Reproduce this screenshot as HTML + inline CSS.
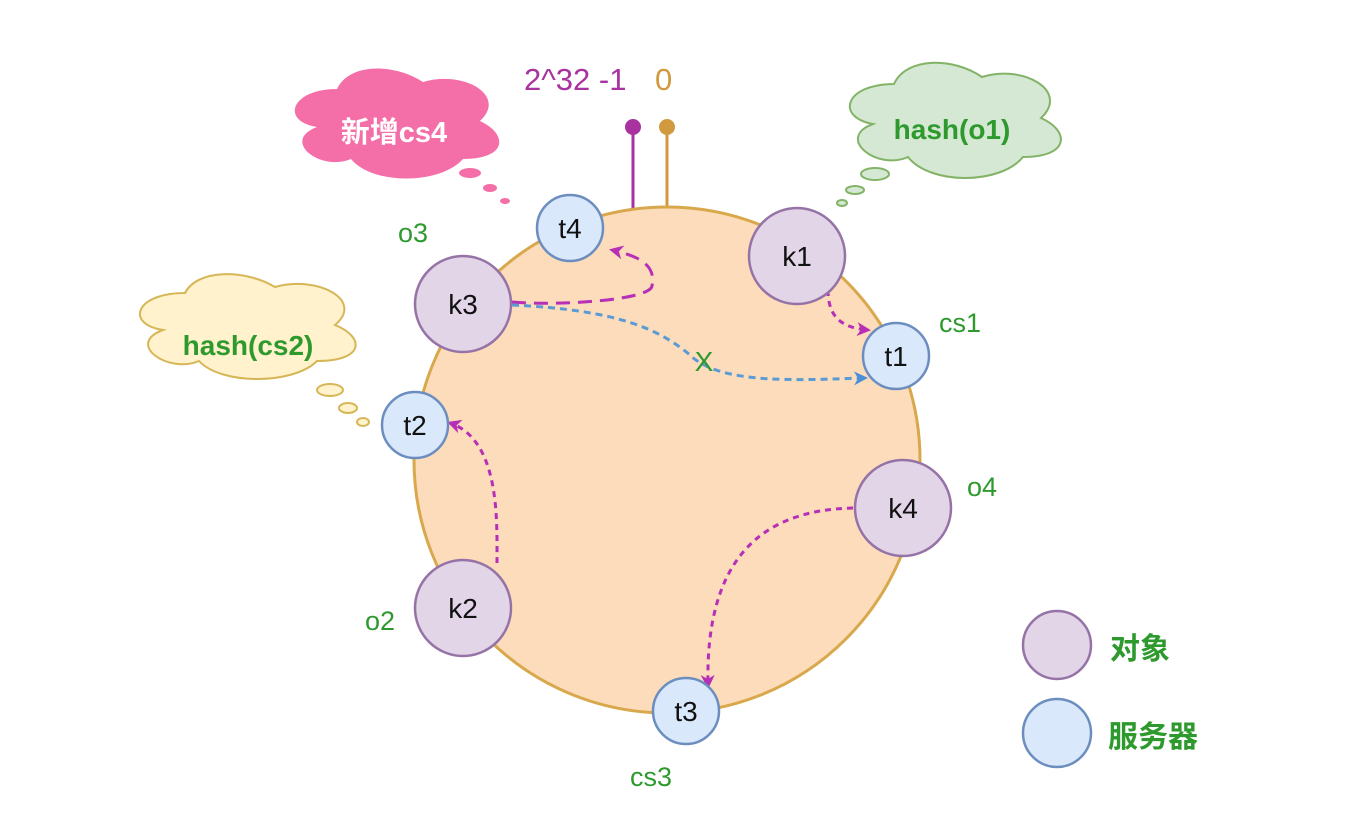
<!DOCTYPE html>
<html><head><meta charset="utf-8"><style>
body{margin:0;background:#fff;}
svg{display:block;font-family:"Liberation Sans","Noto Sans CJK SC",sans-serif;}
</style></head><body>
<svg width="1348" height="820" viewBox="0 0 1348 820">
<defs>
<marker id="am" markerWidth="14" markerHeight="14" refX="11" refY="7" orient="auto" markerUnits="userSpaceOnUse" viewBox="0 0 14 14"><path d="M0,0 L14,7 L0,14 L4,7 Z" fill="#b62fb6"/></marker>
<marker id="ab" markerWidth="14" markerHeight="14" refX="11" refY="7" orient="auto" markerUnits="userSpaceOnUse" viewBox="0 0 14 14"><path d="M0,0 L14,7 L0,14 L4,7 Z" fill="#4a90d9"/></marker>
</defs>

<g>
<path d="M337,89 C291,89 280,121 317,127 C280,141 321,172 351,159 C372,185 440,185 463,159 C508,159 508,134 480,121 C508,95 463,70 423,82 C394,63 349,63 337,89 Z" fill="#f46fa8"/>
<ellipse cx="470" cy="173" rx="11" ry="5" fill="#f46fa8"/><ellipse cx="490" cy="188" rx="7" ry="4" fill="#f46fa8"/><ellipse cx="505" cy="201" rx="5" ry="3" fill="#f46fa8"/>
<text x="394" y="142" font-size="29" font-weight="bold" fill="#fff" text-anchor="middle">新增cs4</text>
</g>
<g>
<path d="M894,84 C845,84 835,117 873,124 C835,138 877,171 908,157 C930,185 1000,185 1023,157 C1070,157 1070,131 1041,118 C1070,91 1023,64 982,77 C953,57 906,57 894,84 Z" fill="#d5e8d4" stroke="#82b366" stroke-width="2"/>
<ellipse cx="875" cy="174" rx="14" ry="6" fill="#d5e8d4" stroke="#82b366" stroke-width="2"/><ellipse cx="855" cy="190" rx="9" ry="4" fill="#d5e8d4" stroke="#82b366" stroke-width="2"/><ellipse cx="842" cy="203" rx="5" ry="3" fill="#d5e8d4" stroke="#82b366" stroke-width="2"/>
<text x="952" y="139" font-size="28" font-weight="bold" fill="#2e9a2e" text-anchor="middle">hash(o1)</text>
</g>
<g>
<path d="M185,293 C135,293 125,324 163,330 C125,344 168,374 199,361 C221,385 293,385 317,361 C365,361 365,337 335,325 C365,300 317,275 275,287 C245,269 197,269 185,293 Z" fill="#fff2cc" stroke="#d6b656" stroke-width="2"/>
<ellipse cx="330" cy="390" rx="13" ry="6" fill="#fff2cc" stroke="#d6b656" stroke-width="2"/><ellipse cx="348" cy="408" rx="9" ry="5" fill="#fff2cc" stroke="#d6b656" stroke-width="2"/><ellipse cx="363" cy="422" rx="6" ry="4" fill="#fff2cc" stroke="#d6b656" stroke-width="2"/>
<text x="248" y="355" font-size="28" font-weight="bold" fill="#2e9a2e" text-anchor="middle">hash(cs2)</text>
</g>

<g>
<line x1="633" y1="127" x2="633" y2="210" stroke="#a8329f" stroke-width="3"/><circle cx="633" cy="127" r="8" fill="#a8329f"/>
<line x1="667" y1="127" x2="667" y2="208" stroke="#d19a3e" stroke-width="3"/><circle cx="667" cy="127" r="8" fill="#d19a3e"/>
<text x="524" y="90" font-size="31" fill="#a8329f">2^32 -1</text>
<text x="655" y="90" font-size="31" fill="#d19a3e">0</text>
</g>

<circle cx="667" cy="460" r="253" fill="#fcdcbb" stroke="#d9a84c" stroke-width="3"/>

<path d="M512,302 C560,306 650,300 652,286 C655,270 648,258 612,250" fill="none" stroke="#b62fb6" stroke-width="3" stroke-dasharray="14,8" marker-end="url(#am)"/>
<path d="M512,305 C620,310 660,330 690,355 C720,385 800,380 865,378" fill="none" stroke="#5b9bd5" stroke-width="3" stroke-dasharray="7,5" marker-end="url(#ab)"/>
<path d="M828,290 C828,320 845,328 868,330" fill="none" stroke="#b62fb6" stroke-width="3" stroke-dasharray="6,5" marker-end="url(#am)"/>
<path d="M497,563 C497,520 500,440 450,423" fill="none" stroke="#b62fb6" stroke-width="3" stroke-dasharray="6,5" marker-end="url(#am)"/>
<path d="M853,508 C760,510 705,560 708,686" fill="none" stroke="#b62fb6" stroke-width="3" stroke-dasharray="6,5" marker-end="url(#am)"/>
<text x="704" y="371" font-size="28" fill="#2e9a2e" text-anchor="middle">X</text>

<g font-size="28" text-anchor="middle" fill="#111">
<g><circle cx="797" cy="256" r="48" fill="#e1d5e7" stroke="#9673a6" stroke-width="2.5"/><text x="797" y="266">k1</text></g>
<g><circle cx="463" cy="304" r="48" fill="#e1d5e7" stroke="#9673a6" stroke-width="2.5"/><text x="463" y="314">k3</text></g>
<g><circle cx="903" cy="508" r="48" fill="#e1d5e7" stroke="#9673a6" stroke-width="2.5"/><text x="903" y="518">k4</text></g>
<g><circle cx="463" cy="608" r="48" fill="#e1d5e7" stroke="#9673a6" stroke-width="2.5"/><text x="463" y="618">k2</text></g>
<g><circle cx="570" cy="228" r="33" fill="#dae8fc" stroke="#6c8ebf" stroke-width="2.5"/><text x="570" y="238">t4</text></g>
<g><circle cx="896" cy="356" r="33" fill="#dae8fc" stroke="#6c8ebf" stroke-width="2.5"/><text x="896" y="366">t1</text></g>
<g><circle cx="415" cy="425" r="33" fill="#dae8fc" stroke="#6c8ebf" stroke-width="2.5"/><text x="415" y="435">t2</text></g>
<g><circle cx="686" cy="711" r="33" fill="#dae8fc" stroke="#6c8ebf" stroke-width="2.5"/><text x="686" y="721">t3</text></g>
</g>

<g font-size="27" fill="#2e9a2e" text-anchor="middle">
<text x="413" y="242">o3</text>
<text x="960" y="332">cs1</text>
<text x="982" y="496">o4</text>
<text x="380" y="630">o2</text>
<text x="651" y="786">cs3</text>
</g>

<g>
<g><circle cx="1057" cy="645" r="34" fill="#e1d5e7" stroke="#9673a6" stroke-width="2.5"/><text x="1110" y="659" font-size="30" font-weight="bold" fill="#2e9a2e">对象</text></g>
<g><circle cx="1057" cy="733" r="34" fill="#dae8fc" stroke="#6c8ebf" stroke-width="2.5"/><text x="1108" y="747" font-size="30" font-weight="bold" fill="#2e9a2e">服务器</text></g>
</g>
</svg>
</body></html>
